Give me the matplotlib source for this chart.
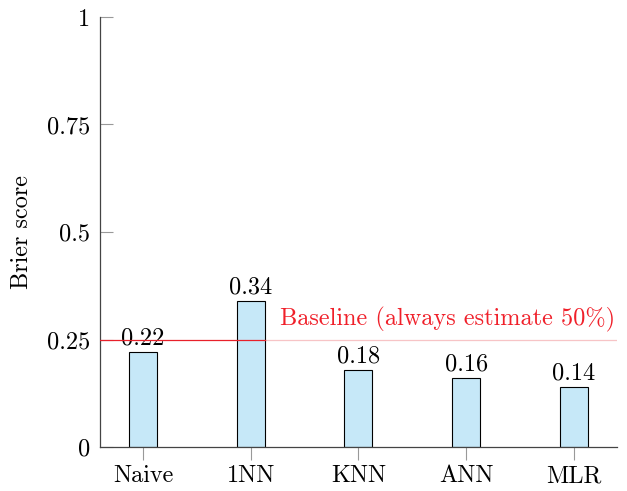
import matplotlib
matplotlib.use("Agg")
import matplotlib.pyplot as plt

# Valores
models = ["Naive", "1NN", "KNN", "ANN", "MLR"]
brier = [0.22, 0.34, 0.18, 0.16, 0.14]
baseline = 0.25
yticks = [0, 0.25, 0.5, 0.75, 1]
ytick_labels = ["0", "0.25", "0.5", "0.75", "1"]

plt.rcParams["font.family"] = ["cmr10", "DejaVu Serif"]
plt.rcParams["axes.formatter.use_mathtext"] = True
FS = 17.5

fig = plt.figure(figsize=(6.27, 4.91), dpi=100)
ax = fig.add_axes([0.1595, 0.0896, 0.8245, 0.8758])

x = list(range(len(models)))
ax.bar(x, brier, width=0.26, color="#c6e8f8", edgecolor="black",
       linewidth=0.8, zorder=2)
for xi, v in zip(x, brier):
    ax.text(xi, v + 0.006, f"{v:.2f}", ha="center", va="bottom", fontsize=FS)

# línea base: tramo rojo y tramo atenuado
ax.plot([-0.4, 1.13], [baseline, baseline], color="#e8202a", lw=0.9, zorder=3)
ax.plot([1.13, 4.4], [baseline, baseline], color="#f7c4c6", lw=0.9, zorder=1)
ax.text(1.27, baseline + 0.018, "Baseline (always estimate 50%)",
        color="#f0202a", fontsize=FS, ha="left", va="bottom")

ax.set_xlim(-0.4, 4.4)
ax.set_ylim(0, 1)
ax.set_xticks(x)
ax.set_xticklabels(models, fontsize=FS)
ax.set_yticks(yticks)
ax.set_yticklabels(ytick_labels, fontsize=FS)
ax.set_ylabel("Brier score", fontsize=FS, labelpad=10)

for s in ["top", "right"]:
    ax.spines[s].set_visible(False)
for s in ["left", "bottom"]:
    ax.spines[s].set_color("#444444")
    ax.spines[s].set_linewidth(0.9)
ax.tick_params(axis="y", direction="in", length=9, color="#999999", pad=7)
ax.tick_params(axis="x", direction="out", length=9, color="#999999", pad=4)

fig.savefig("out.png", dpi=100)
